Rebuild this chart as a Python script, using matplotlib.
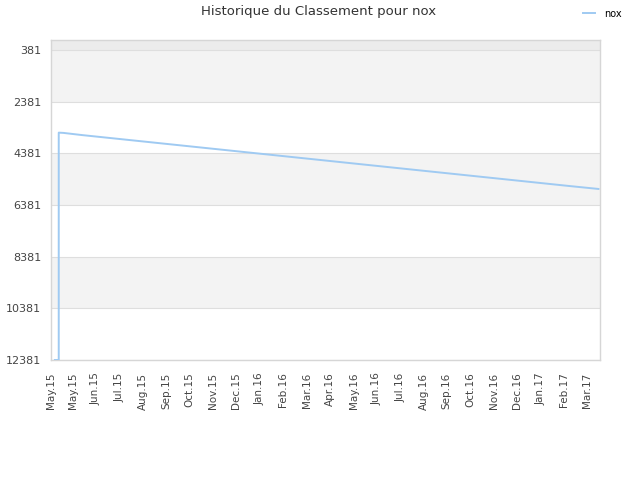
import matplotlib
matplotlib.use("Agg")
import matplotlib.pyplot as plt
import pandas as pd

# data
dates = ["2015-05-06", "2015-05-11", "2015-05-11", "2015-05-17", "2015-06-10", "2015-07-10",
         "2015-08-09", "2015-09-08", "2015-10-08", "2015-11-07", "2015-12-07",
         "2016-01-06", "2016-02-05", "2016-03-06", "2016-04-05", "2016-05-05",
         "2016-06-04", "2016-07-04", "2016-08-03", "2016-09-02", "2016-10-02",
         "2016-11-01", "2016-12-01", "2016-12-31", "2017-01-30", "2017-03-01",
         "2017-04-07"]
ranks = [12381, 12381, 3580, 3590, 3674, 3768, 3862, 3956, 4050, 4144, 4238,
         4332, 4426, 4520, 4614, 4708, 4802, 4896, 4990, 5084, 5178,
         5272, 5366, 5460, 5554, 5648, 5760]

tick_dates = ["2015-05-01", "2015-05-29", "2015-06-28", "2015-07-28", "2015-08-28",
              "2015-09-27", "2015-10-27", "2015-11-26", "2015-12-26", "2016-01-25",
              "2016-02-24", "2016-03-26", "2016-04-25", "2016-05-26", "2016-06-25",
              "2016-07-25", "2016-08-24", "2016-09-23", "2016-10-24", "2016-11-23",
              "2016-12-23", "2017-01-22", "2017-02-21", "2017-03-23"]
tick_labels = ["May.15", "May.15", "Jun.15", "Jul.15", "Aug.15", "Sep.15", "Oct.15",
               "Nov.15", "Dec.15", "Jan.16", "Feb.16", "Mar.16", "Apr.16", "May.16",
               "Jun.16", "Jul.16", "Aug.16", "Sep.16", "Oct.16", "Nov.16", "Dec.16",
               "Jan.17", "Feb.17", "Mar.17"]
y_ticks = [381, 2381, 4381, 6381, 8381, 10381, 12381]

x = pd.to_datetime(dates)
xt = pd.to_datetime(tick_dates)

fig = plt.figure(figsize=(6.4, 4.8), dpi=100)
ax = fig.add_axes([51 / 640, 1 - 360 / 480, 549 / 640, 320 / 480])

# alternating bands
ax.axhspan(-6, y_ticks[0], color="#ececec", zorder=0, lw=0)
for i in range(len(y_ticks) - 1):
    if i % 2 == 0:
        ax.axhspan(y_ticks[i], y_ticks[i + 1], color="#f3f3f3", zorder=0, lw=0)

for yv in y_ticks:
    ax.axhline(yv, color="#dedede", lw=0.8, zorder=1)

ax.plot(x, ranks, color="#9fcaf2", lw=1.4, zorder=3, label="nox")

ax.set_xlim(pd.Timestamp("2015-05-01"), pd.Timestamp("2017-04-09"))
ax.set_ylim(12381, -6)
ax.set_yticks(y_ticks)
ax.set_yticklabels([str(v) for v in y_ticks], fontsize=8, color="#444444")
ax.set_xticks(xt)
ax.set_xticklabels(tick_labels, rotation=90, fontsize=7.5, color="#444444")
ax.tick_params(axis="y", length=0, pad=7)
ax.tick_params(axis="x", length=0, pad=9)

for s in ax.spines.values():
    s.set_color("#d6d6d6")
    s.set_linewidth(1)

fig.text(0.497, 0.975, "Historique du Classement pour nox", ha="center", va="center",
         fontsize=9.5, color="#333333")
fig.legend(loc="upper right", bbox_to_anchor=(0.985, 1.0), frameon=False, fontsize=7,
           handlelength=1.3, handletextpad=0.9)

fig.savefig("out.png", dpi=100)
